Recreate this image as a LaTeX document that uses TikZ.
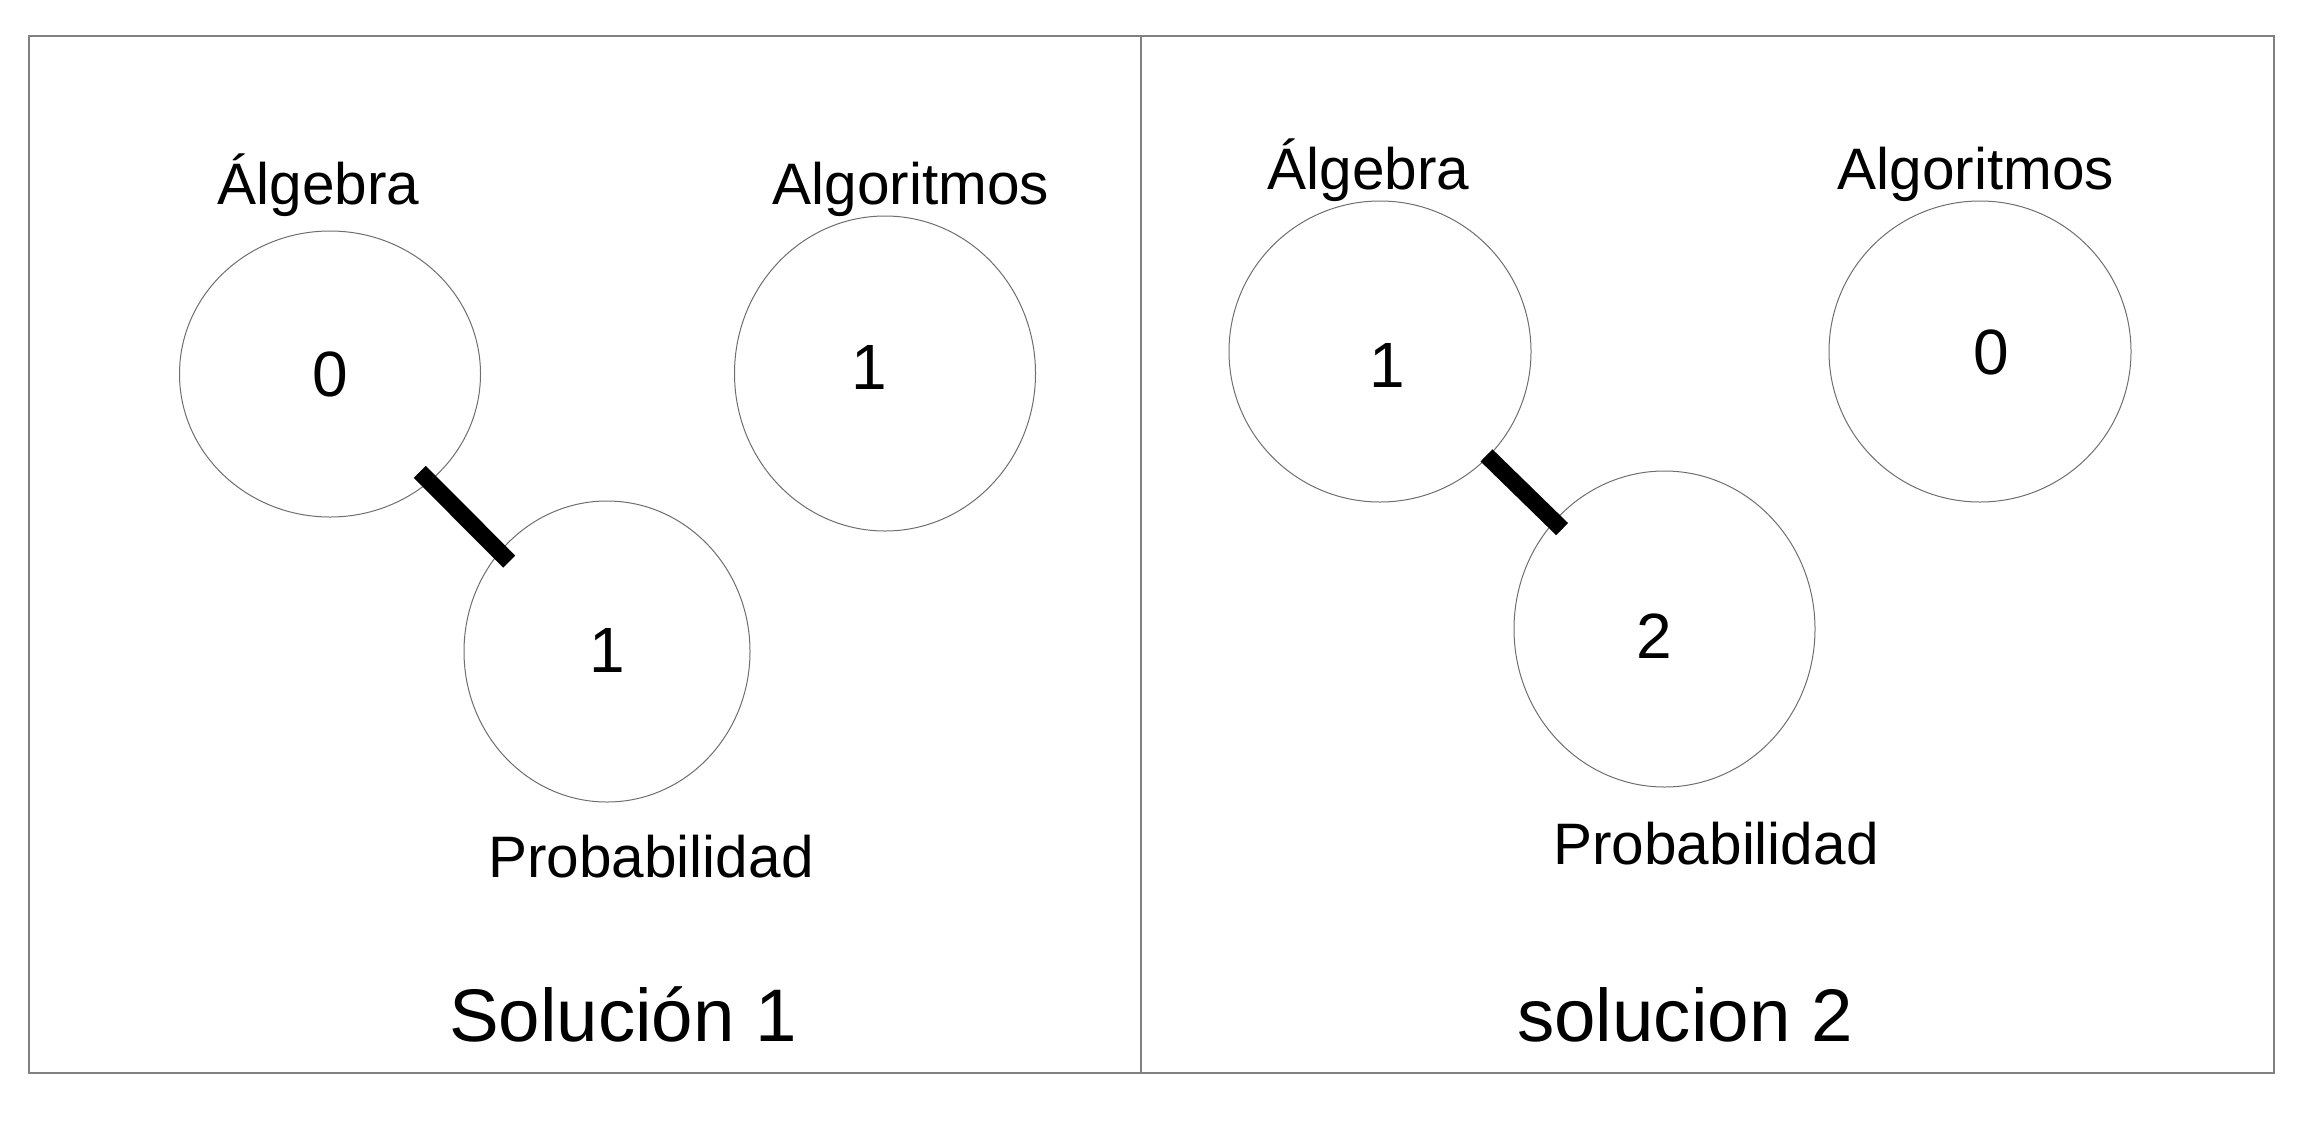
\documentclass[tikz,border=0pt]{standalone}
\usepackage{fontspec}
\setmainfont{Liberation Sans}
\usetikzlibrary{shapes.geometric}
\definecolor{framegray}{RGB}{128,128,128}
\definecolor{ballgray}{RGB}{110,110,110}
\begin{document}
\begin{tikzpicture}[x=1bp,y=-1bp,
  frame/.style={draw=framegray, line width=1.5bp},
  ball/.style={ellipse, draw=ballgray, line width=1bp, inner sep=0pt, outer sep=0pt},
  lbl/.style={anchor=base, inner sep=0pt, font=\fontsize{58.5bp}{61bp}\selectfont},
  num/.style={inner sep=0pt, font=\fontsize{64bp}{67bp}\selectfont},
  ttl/.style={anchor=base, inner sep=0pt, font=\fontsize{74.5bp}{78bp}\selectfont},
  bar/.style={line width=17bp, draw=black}]
\useasboundingbox (0,0) rectangle (2316,1120);
% frame
\draw[frame] (29,36) rectangle (2274,1073);
\coordinate (divtop) at (1141,36);
\coordinate (divbot) at (1141,1073);
\draw[frame] (divtop) -- (divbot);
% solution 1
\node[ball, minimum width=301bp, minimum height=286bp] (A1) at (330,374) {};
\node[ball, minimum width=301bp, minimum height=315bp] (G1) at (885,373.5) {};
\node[ball, minimum width=286bp, minimum height=301bp] (P1) at (607,651.5) {};
\node[num] (A1n) at (330,374.5) {0};
\node[num] (G1n) at (869,367) {1};
\node[num] (P1n) at (607,650) {1};
\node[lbl] (A1l) at (318.5,204) {Álgebra};
\node[lbl] (G1l) at (911,204) {Algoritmos};
\node[lbl] (P1l) at (651,877) {Probabilidad};
\node[ttl] (T1) at (623,1041) {Solución 1};
\draw[bar, shorten <=-14bp, shorten >=-14bp, transform canvas={shift={(-4,4)}}] (A1) -- (P1);
% solution 2
\node[ball, minimum width=302bp, minimum height=301bp] (A2) at (1380,351.5) {};
\node[ball, minimum width=302bp, minimum height=301bp] (G2) at (1980,351.5) {};
\node[ball, minimum width=301bp, minimum height=316bp] (P2) at (1664.5,629) {};
\node[num] (A2n) at (1387,365.5) {1};
\node[num] (G2n) at (1991,352.5) {0};
\node[num] (P2n) at (1654,636) {2};
\node[lbl] (A2l) at (1368.5,189) {Álgebra};
\node[lbl] (G2l) at (1976,189) {Algoritmos};
\node[lbl] (P2l) at (1716,864) {Probabilidad};
\node[ttl] (T2) at (1685,1041) {solucion 2};
\draw[bar, shorten <=-2bp, shorten >=-11bp] (A2) -- (P2);
\end{tikzpicture}
\end{document}
